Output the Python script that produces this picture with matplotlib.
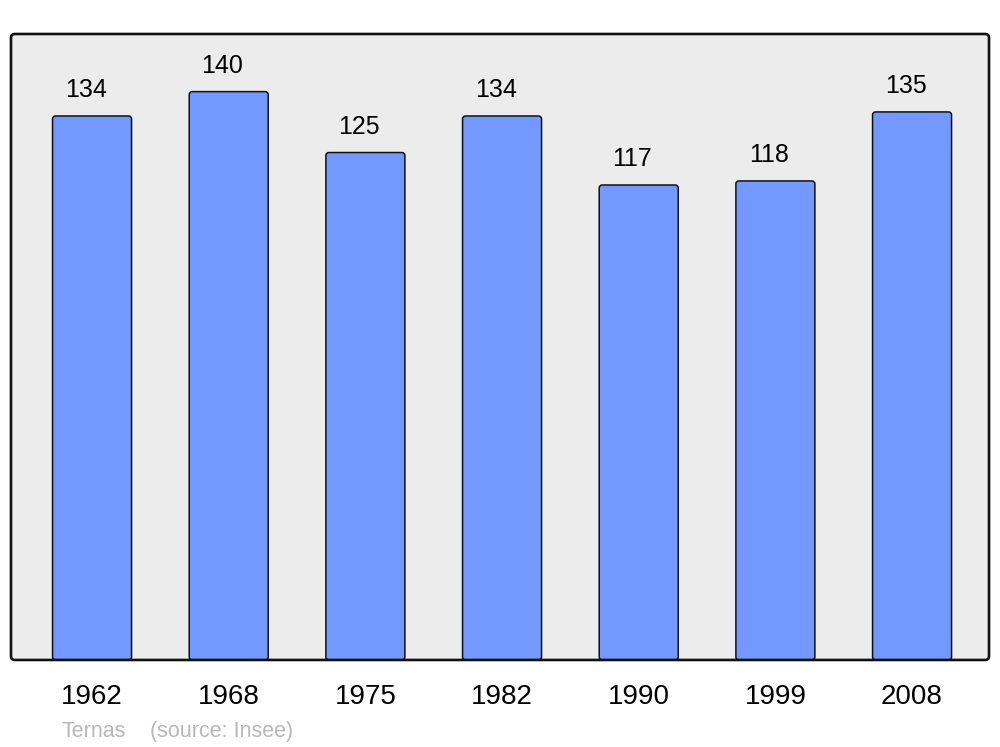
import matplotlib
matplotlib.use("Agg")
import matplotlib.pyplot as plt
from matplotlib.patches import FancyBboxPatch

years = ["1962", "1968", "1975", "1982", "1990", "1999", "2008"]
population = [134, 140, 125, 134, 117, 118, 135]
footer_name = "Ternas"
footer_source = "(source: Insee)"

plt.rcParams['font.family'] = ['Liberation Sans', 'DejaVu Sans']

fig = plt.figure(figsize=(10, 7.47), dpi=100)
ax = fig.add_axes([0.011, 0.1165, 0.978, 0.838])
ax.set_xlim(-0.593, 6.563)
ax.set_ylim(0, 154.2)
ax.patch.set_visible(False)
for s in ax.spines.values():
    s.set_visible(False)

aspect_axes = (0.978 * 1000) / (0.838 * 747)
frame_face = FancyBboxPatch((0, 0), 1, 1, transform=ax.transAxes,
                            boxstyle="round,pad=0,rounding_size=0.004",
                            mutation_aspect=aspect_axes,
                            facecolor="#ececec", edgecolor="none",
                            zorder=0, clip_on=False)
ax.add_patch(frame_face)
frame_edge = FancyBboxPatch((0, 0), 1, 1, transform=ax.transAxes,
                            boxstyle="round,pad=0,rounding_size=0.004",
                            mutation_aspect=aspect_axes,
                            facecolor="none", edgecolor="#111111", linewidth=1.9,
                            zorder=5, clip_on=False)
ax.add_patch(frame_edge)

x = list(range(len(years)))
bars = ax.bar(x, population, width=0.578, color="#7399ff", edgecolor="none")

# pixels per data unit
px_x = 978 / (6.563 + 0.593)
px_y = 626 / 154.2
for b in bars:
    b.set_visible(False)
    rb = FancyBboxPatch((b.get_x(), b.get_y()), b.get_width(), b.get_height(),
                        boxstyle="round,pad=0,rounding_size=%f" % (3 / px_x),
                        mutation_aspect=px_x / px_y,
                        facecolor="#7399ff", edgecolor="#111111", linewidth=1.1,
                        zorder=3, clip_on=False)
    ax.add_patch(rb)
    ax.annotate(str(int(b.get_height())),
                (b.get_x() + b.get_width() / 2, b.get_height()),
                xytext=(-4.5, 13.5), textcoords="offset points",
                ha="center", va="baseline", fontsize=18, color="black")

ax.set_xticks(x)
ax.set_xticklabels(years, fontsize=20)
ax.tick_params(axis="x", length=0, pad=27)
for lab in ax.get_xticklabels():
    lab.set_va("center")
ax.set_yticks([])

fig.text(0.061, 0.014, footer_name, fontsize=15.5, color="#b8b8b8", ha="left", va="baseline")
fig.text(0.150, 0.014, footer_source, fontsize=15.5, color="#b8b8b8", ha="left", va="baseline")

fig.savefig("out.png", dpi=100)
